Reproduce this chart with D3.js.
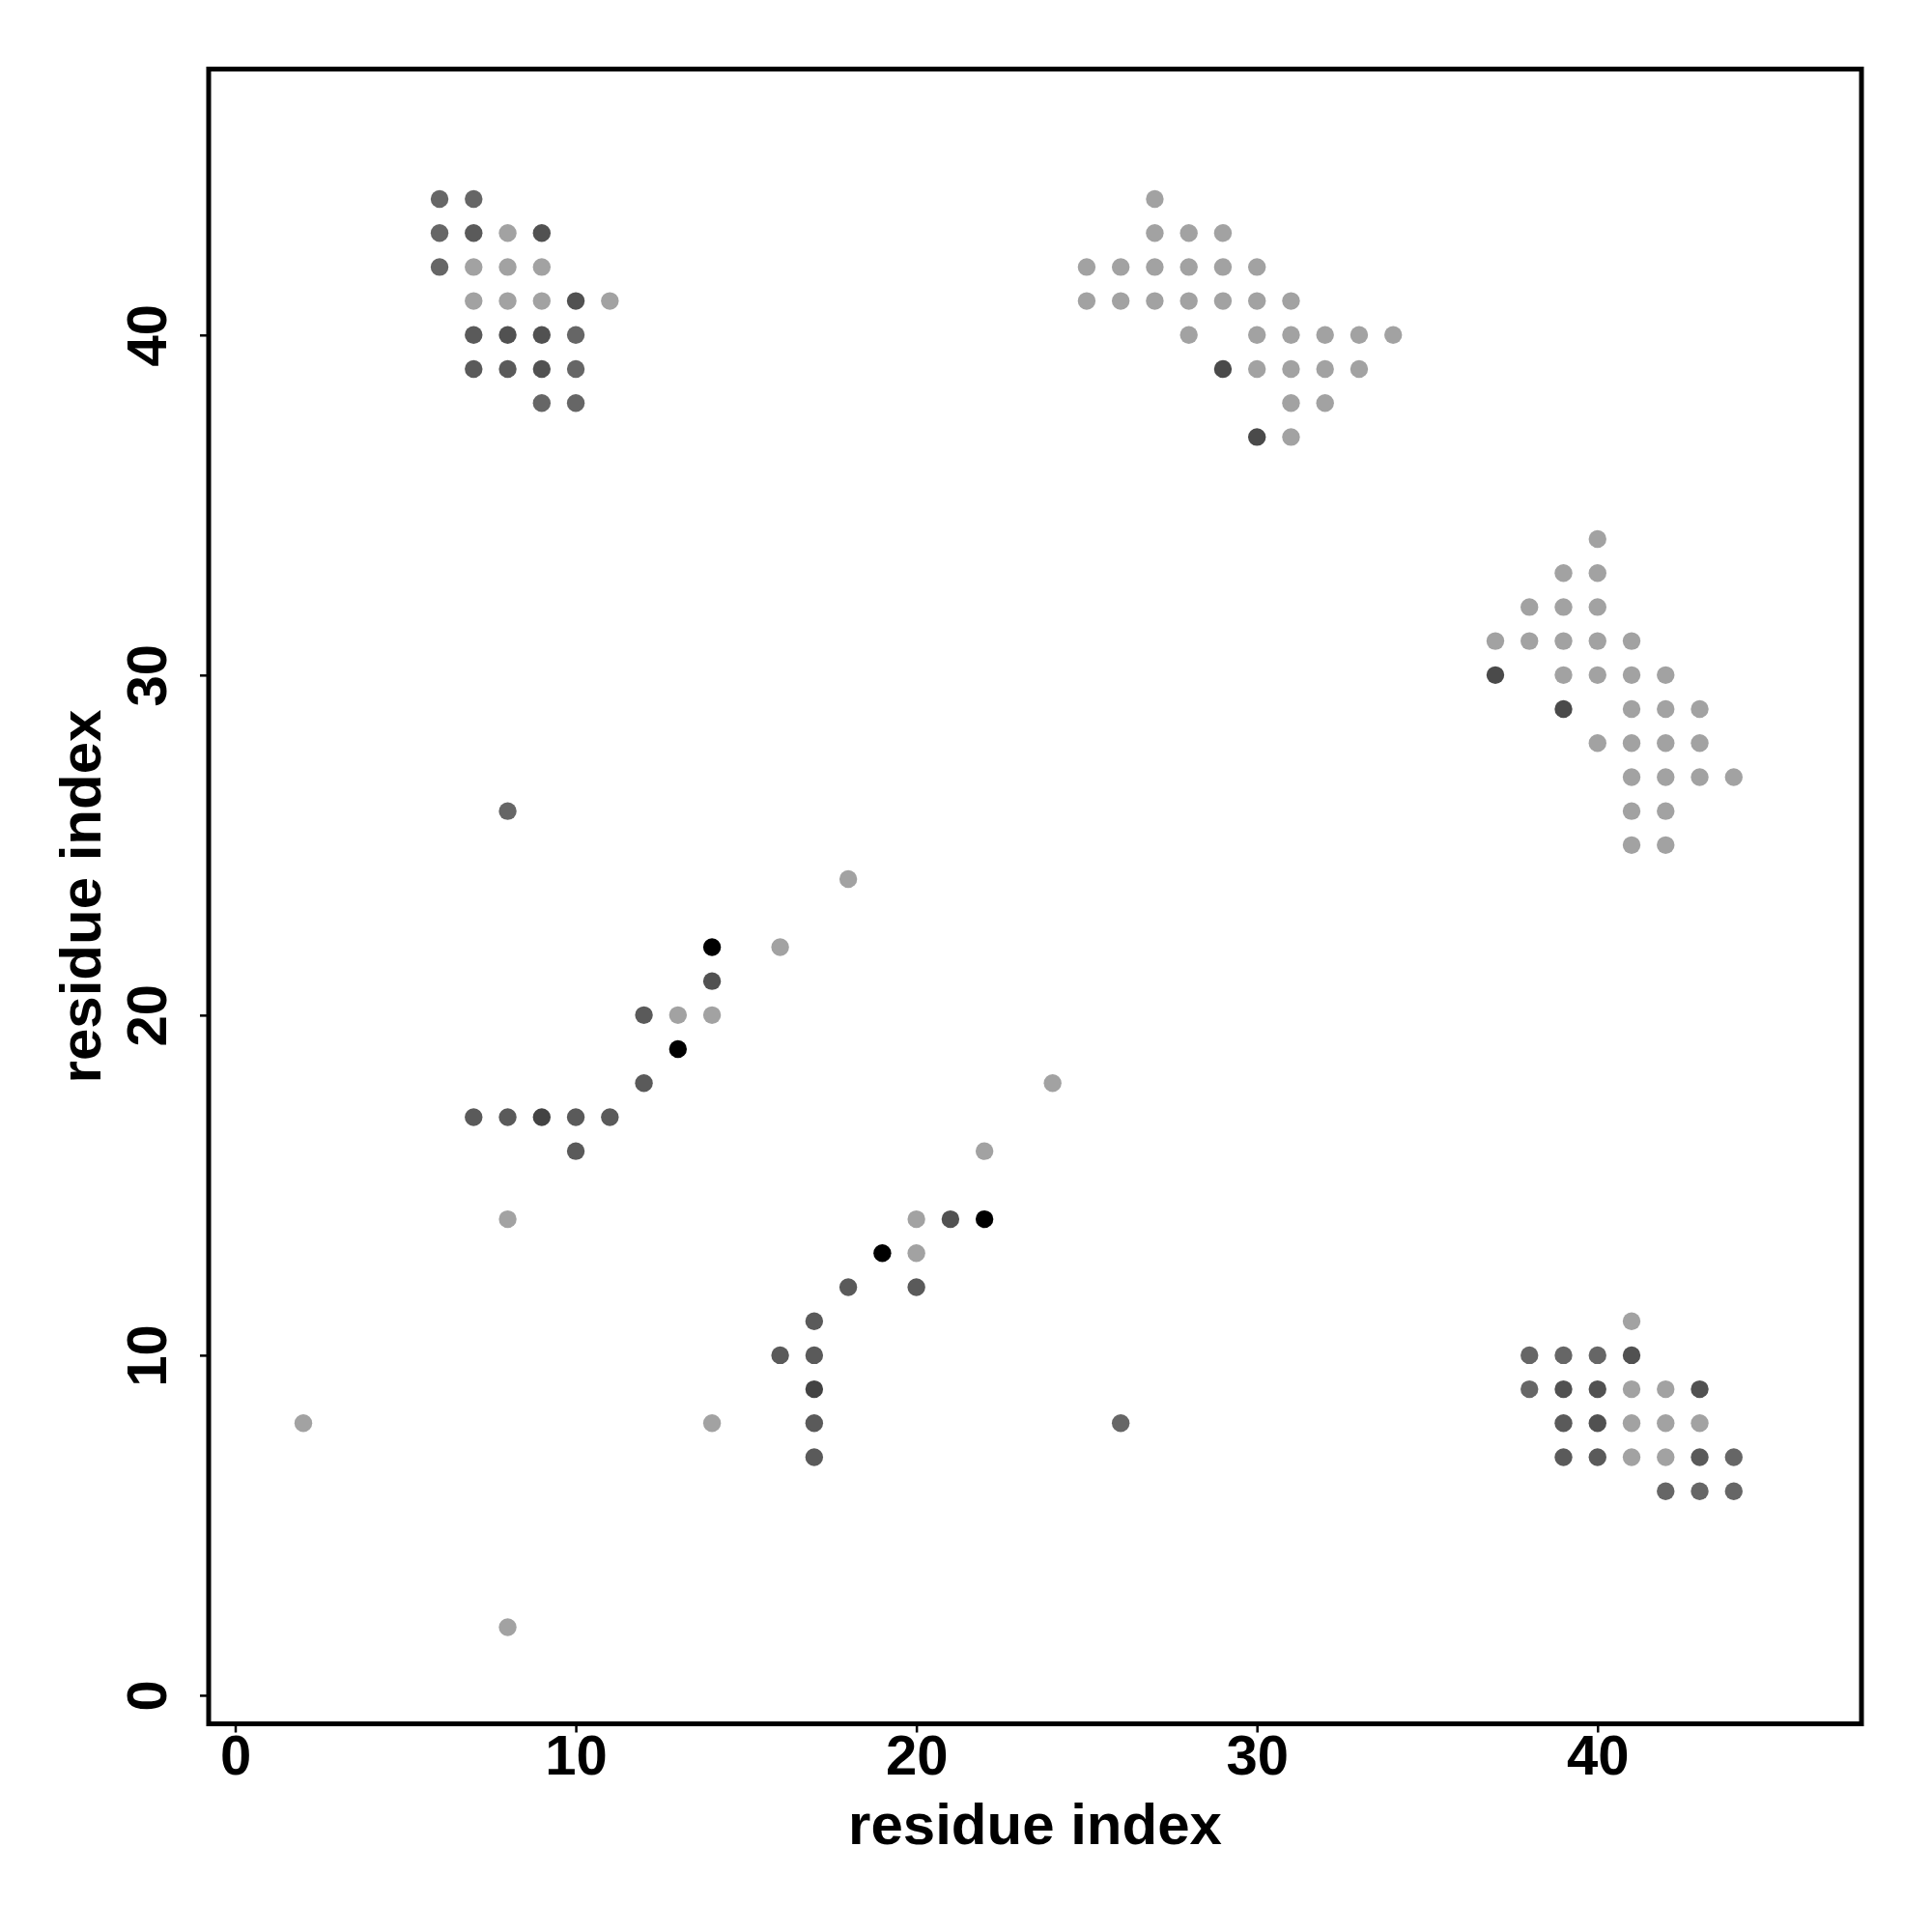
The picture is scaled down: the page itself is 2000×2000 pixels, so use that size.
<!DOCTYPE html>
<html>
<head>
<meta charset="utf-8">
<script src="https://cdn.jsdelivr.net/npm/d3@7"></script>
<style>
  html, body { margin: 0; padding: 0; background: #fff; }
  svg { display: block; }
  text { font-family: "Liberation Sans", Arial, Helvetica, sans-serif; font-weight: bold; }
</style>
</head>
<body>
<svg id="chart" width="2000" height="2000"></svg>
<script>
// ---- data: [residue i, residue j, contact level] (0 = light grey ... 6 = black)
const clusterTopLeft = [
  [6,44,1],[7,44,1],
  [6,43,1],[7,43,2],[8,43,0],[9,43,3],
  [6,42,1],[7,42,0],[8,42,0],[9,42,0],
  [7,41,0],[8,41,0],[9,41,0],[10,41,3],[11,41,0],
  [7,40,2],[8,40,3],[9,40,3],[10,40,1],
  [7,39,2],[8,39,2],[9,39,3],[10,39,1],
  [9,38,1],[10,38,1]
];
const clusterBottomRight = [
  [44,6,1],[44,7,1],
  [43,6,1],[43,7,2],[43,8,0],[43,9,3],
  [42,6,1],[42,7,0],[42,8,0],[42,9,0],
  [41,7,0],[41,8,0],[41,9,0],[41,10,3],[41,11,0],
  [40,7,2],[40,8,3],[40,9,3],[40,10,1],
  [39,7,2],[39,8,2],[39,9,3],[39,10,1],
  [38,9,1],[38,10,1]
];
const clusterTopRight = [
  [27,44,0],
  [27,43,0],[28,43,0],[29,43,0],
  [25,42,0],[26,42,0],[27,42,0],[28,42,0],[29,42,0],[30,42,0],
  [25,41,0],[26,41,0],[27,41,0],[28,41,0],[29,41,0],[30,41,0],[31,41,0],
  [28,40,0],[30,40,0],[31,40,0],[32,40,0],[33,40,0],[34,40,0],
  [29,39,4],[30,39,0],[31,39,0],[32,39,0],[33,39,0],
  [31,38,0],[32,38,0],
  [30,37,4],[31,37,0]
];
const clusterRightMiddle = [
  [40,34,0],
  [39,33,0],[40,33,0],
  [38,32,0],[39,32,0],[40,32,0],
  [37,31,0],[38,31,0],[39,31,0],[40,31,0],[41,31,0],
  [37,30,4],[39,30,0],[40,30,0],[41,30,0],[42,30,0],
  [39,29,4],[41,29,0],[42,29,0],[43,29,0],
  [40,28,0],[41,28,0],[42,28,0],[43,28,0],
  [41,27,0],[42,27,0],[43,27,0],[44,27,0],
  [41,26,0],[42,26,0],
  [41,25,0],[42,25,0]
];
const clusterUpperDiagonal = [
  [14,22,6],[16,22,0],[14,21,3],[12,20,2],[13,20,0],[14,20,0],[13,19,6],[12,18,2],
  [7,17,2],[8,17,2],[9,17,5],[10,17,2],[11,17,2],[10,16,2]
];
const clusterLowerDiagonal = [
  [22,14,6],[22,16,0],[21,14,3],[20,12,2],[20,13,0],[20,14,0],[19,13,6],[18,12,2],
  [17,7,2],[17,8,2],[17,9,5],[17,10,2],[17,11,2],[16,10,2]
];
const isolatedContacts = [
  [8,26,1],[26,8,1],[18,24,0],[24,18,0],[8,14,0],[14,8,0],[2,8,0],[8,2,0]
];
const tickValues = [0, 10, 20, 30, 40];
const axisTitleX = "residue index";
const axisTitleY = "residue index";

// ---- drawing
const svg = d3.select("#chart");
const plotLeft = 216, plotRight = 1927, plotTop = 71.5, plotBottom = 1784.5;

const x = d3.scaleLinear().domain([-0.78, 47.75]).range([plotLeft, plotRight]);
const y = d3.scaleLinear().domain([-0.84, 47.82]).range([plotBottom, plotTop]);
const shade = d3.scaleOrdinal()
  .domain([0, 1, 2, 3, 4, 5, 6])
  .range(["#a2a2a2", "#666666", "#5a5a5a", "#515151", "#4a4a4a", "#434343", "#000000"]);

svg.append("rect").attr("width", 2000).attr("height", 2000).attr("fill", "#fff");

const allPoints = [].concat(clusterTopLeft, clusterBottomRight, clusterTopRight,
  clusterRightMiddle, clusterUpperDiagonal, clusterLowerDiagonal, isolatedContacts);

svg.append("g").selectAll("circle").data(allPoints).join("circle")
  .attr("cx", d => x(d[0]))
  .attr("cy", d => y(d[1]))
  .attr("r", 9.2)
  .attr("fill", d => shade(d[2]));

// frame
svg.append("rect")
  .attr("x", plotLeft).attr("y", plotTop)
  .attr("width", plotRight - plotLeft).attr("height", plotBottom - plotTop)
  .attr("fill", "none").attr("stroke", "#000").attr("stroke-width", 5);

// x axis
const gx = svg.append("g").attr("transform", `translate(0,${plotBottom})`)
  .call(d3.axisBottom(x).tickValues(tickValues).tickSize(9).tickFormat(d3.format("d")));
gx.select(".domain").remove();
gx.selectAll(".tick line").attr("stroke", "#000").attr("stroke-width", 2.5);
gx.selectAll(".tick text")
  .attr("y", 52.5).attr("dy", null)
  .attr("fill", "#000")
  .style("font-size", "58px").style("font-weight", "bold")
  .style("font-family", "'Liberation Sans', Arial, sans-serif");

// y axis
const gy = svg.append("g").attr("transform", `translate(${plotLeft},0)`)
  .call(d3.axisLeft(y).tickValues(tickValues).tickSize(9).tickFormat(d3.format("d")));
gy.select(".domain").remove();
gy.selectAll(".tick line").attr("stroke", "#000").attr("stroke-width", 2.5);
gy.selectAll(".tick text")
  .attr("x", null).attr("dy", null)
  .attr("transform", "translate(-44.5,0) rotate(-90)")
  .attr("text-anchor", "middle")
  .attr("fill", "#000")
  .style("font-size", "58px").style("font-weight", "bold")
  .style("font-family", "'Liberation Sans', Arial, sans-serif");

// titles
svg.append("text")
  .attr("x", (plotLeft + plotRight) / 2).attr("y", 1909)
  .attr("text-anchor", "middle")
  .style("font-size", "60px")
  .text(axisTitleX);

svg.append("text")
  .attr("transform", `translate(104,${(plotTop + plotBottom) / 2}) rotate(-90)`)
  .attr("text-anchor", "middle")
  .style("font-size", "60px")
  .text(axisTitleY);
</script>
</body>
</html>
